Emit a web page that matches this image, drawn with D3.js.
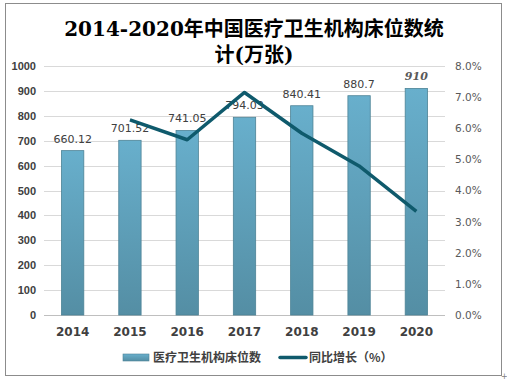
<!DOCTYPE html>
<html>
<head>
<meta charset="utf-8">
<script src="https://cdn.jsdelivr.net/npm/d3@7"></script>
<style>
  body { margin: 0; background: #fff; }
  svg { display: block; }
</style>
</head>
<body>
<div class="graphique"></div>
<script>
"use strict";

// donnees
var annees = ["2014", "2015", "2016", "2017", "2018", "2019", "2020"];
var lits = [660.12, 701.52, 741.05, 794.03, 840.41, 880.7, 910];
var croissance = [null, 6.27, 5.63, 7.15, 5.84, 4.79, 3.33];
var ticksGauche = [0, 100, 200, 300, 400, 500, 600, 700, 800, 900, 1000];
var ticksDroite = [0, 1, 2, 3, 4, 5, 6, 7, 8];

var larg = 507, haut = 382;
var gauche = 44, droite = 445, sommet = 66, bas = 315;

var svg = d3.select(".graphique")
  .append("svg")
  .attr("width", larg)
  .attr("height", haut);

// cadre
svg.append("rect")
  .attr("x", 5.5).attr("y", 3.5)
  .attr("width", 496).attr("height", 372)
  .attr("fill", "#fff")
  .attr("stroke", "#8c8c8c")
  .attr("stroke-width", 1);

var defs = svg.append("defs");
var grad = defs.append("linearGradient")
  .attr("id", "degrade")
  .attr("x1", 0).attr("y1", 0).attr("x2", 0).attr("y2", 1);
grad.append("stop").attr("offset", "0%").attr("stop-color", "#68afcc");
grad.append("stop").attr("offset", "100%").attr("stop-color", "#548ea4");

var x = d3.scaleBand().domain(annees).range([gauche, droite]).paddingInner(0.61).paddingOuter(0.305);
var y = d3.scaleLinear().domain([0, 1000]).range([bas, sommet]);
var y2 = d3.scaleLinear().domain([0, 8]).range([bas, sommet]);

// grille
svg.selectAll("line.grille")
  .data(ticksGauche)
  .enter()
  .append("line")
  .attr("class", "grille")
  .attr("x1", gauche).attr("x2", droite)
  .attr("y1", function(d){ return Math.round(y(d)) + 0.5; })
  .attr("y2", function(d){ return Math.round(y(d)) + 0.5; })
  .attr("stroke", function(d){ return d === 0 ? "#bfbfbf" : "#d9d9d9"; })
  .attr("stroke-width", 1);

// axes
var axeG = svg.append("g")
  .attr("transform", "translate(" + (gauche - 8) + ",0)")
  .call(d3.axisLeft(y).tickValues(ticksGauche).tickSize(0).tickPadding(0).tickFormat(d3.format("d")));
axeG.select(".domain").remove();
axeG.selectAll("text")
  .attr("font-family", "Liberation Sans, Arial, sans-serif")
  .attr("font-size", "11px")
  .attr("font-weight", "bold")
  .attr("fill", "#404040");

var axeD = svg.append("g")
  .attr("transform", "translate(" + (droite + 10) + ",0)")
  .call(d3.axisRight(y2).tickValues(ticksDroite).tickSize(0).tickPadding(0)
    .tickFormat(function(d){ return d.toFixed(1) + "%"; }));
axeD.select(".domain").remove();
axeD.selectAll("text")
  .attr("font-family", "DejaVu Sans, sans-serif")
  .attr("font-size", "10.5px")
  .attr("fill", "#595959");

var axeX = svg.append("g")
  .attr("transform", "translate(0," + (bas + 12) + ")")
  .call(d3.axisBottom(x).tickSize(0).tickPadding(0));
axeX.select(".domain").remove();
axeX.selectAll("text")
  .attr("font-family", "DejaVu Sans, sans-serif")
  .attr("font-size", "12px")
  .attr("font-weight", "bold")
  .attr("fill", "#404040");

// barres
svg.selectAll("rect.barre")
  .data(lits)
  .enter()
  .append("rect")
  .attr("class", "barre")
  .attr("x", function(d, i){ return x(annees[i]); })
  .attr("y", function(d){ return y(d); })
  .attr("width", x.bandwidth())
  .attr("height", function(d){ return bas - y(d); })
  .attr("fill", "url(#degrade)")
  .attr("stroke", "#4d8396")
  .attr("stroke-width", 0.8);

// etiquettes
svg.selectAll("text.valeur")
  .data(lits)
  .enter()
  .append("text")
  .attr("class", "valeur")
  .attr("x", function(d, i){ return x(annees[i]) + x.bandwidth() / 2; })
  .attr("y", function(d){ return y(d) - 8; })
  .attr("text-anchor", "middle")
  .attr("font-family", function(d, i){ return i === 6 ? "DejaVu Serif, serif" : "DejaVu Sans, sans-serif"; })
  .attr("font-size", "11px")
  .attr("font-style", function(d, i){ return i === 6 ? "italic" : "normal"; })
  .attr("font-weight", function(d, i){ return i === 6 ? "bold" : "normal"; })
  .attr("fill", function(d, i){ return i === 6 ? "#595959" : "#404040"; })
  .text(function(d){ return d; });

// courbe
var ligne = d3.line()
  .defined(function(d){ return d !== null; })
  .x(function(d, i){ return x(annees[i]) + x.bandwidth() / 2; })
  .y(function(d){ return y2(d); });

svg.append("path")
  .datum(croissance)
  .attr("d", ligne)
  .attr("fill", "none")
  .attr("stroke", "#0f5a6c")
  .attr("stroke-width", 3.5)
  .attr("stroke-linejoin", "round");

// titre
var titre = svg.append("text")
  .attr("text-anchor", "middle")
  .attr("font-family", "DejaVu Serif, Noto Sans CJK SC, serif")
  .attr("font-size", "20px")
  .attr("font-weight", "bold")
  .attr("fill", "#000");
titre.append("tspan").attr("x", 254).attr("y", 36).text("2014-2020年中国医疗卫生机构床位数统");
titre.append("tspan").attr("x", 254).attr("y", 62).text("计(万张)");

// legende
var leg = svg.append("g");
leg.append("rect")
  .attr("x", 123).attr("y", 354)
  .attr("width", 26).attr("height", 7)
  .attr("fill", "url(#degrade)")
  .attr("stroke", "#4d8396")
  .attr("stroke-width", 0.6);
leg.append("text")
  .attr("x", 153).attr("y", 362)
  .attr("font-family", "Noto Sans CJK SC, sans-serif")
  .attr("font-size", "12px")
  .attr("font-weight", "bold")
  .attr("fill", "#404040")
  .text("医疗卫生机构床位数");
leg.append("line")
  .attr("x1", 280).attr("x2", 306)
  .attr("y1", 357.5).attr("y2", 357.5)
  .attr("stroke", "#0f5a6c")
  .attr("stroke-width", 3.5)
  .attr("stroke-linecap", "round");
leg.append("text")
  .attr("x", 309).attr("y", 362)
  .attr("font-family", "Noto Sans CJK SC, sans-serif")
  .attr("font-size", "12px")
  .attr("font-weight", "bold")
  .attr("fill", "#404040")
  .text("同比增长（%）");

// petite croix en bas a droite
svg.append("text")
  .attr("x", 501).attr("y", 379)
  .attr("font-family", "DejaVu Sans, sans-serif")
  .attr("font-size", "8px")
  .attr("fill", "#808080")
  .text("+");
</script>
</body>
</html>
